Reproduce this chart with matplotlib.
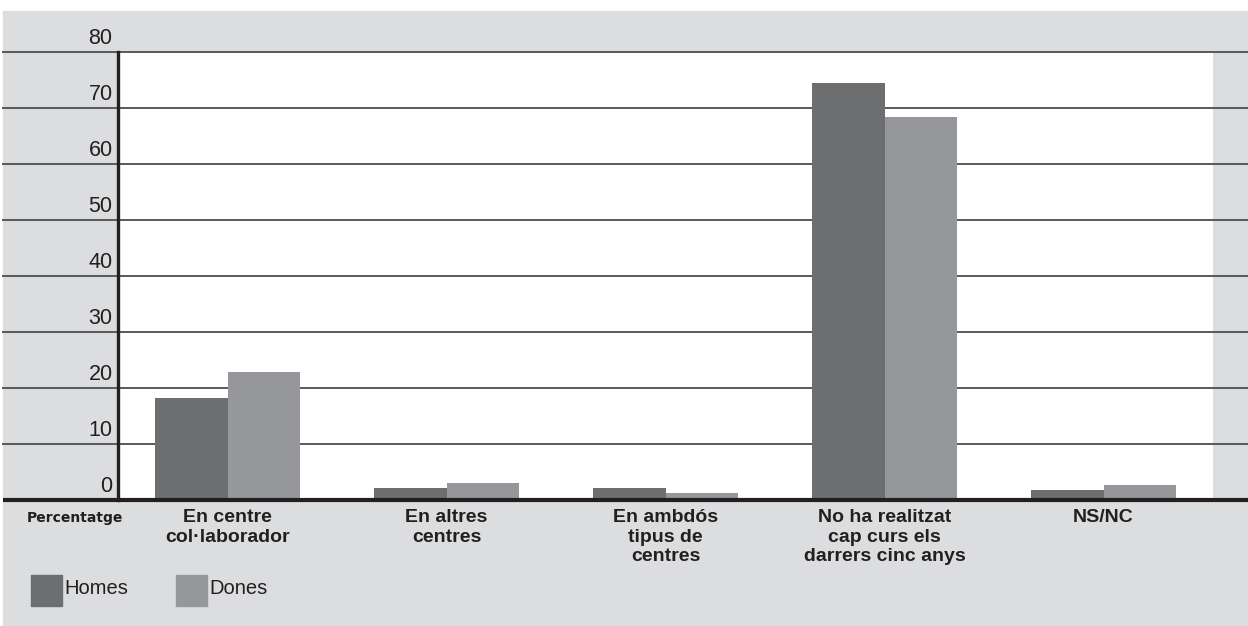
import matplotlib.pyplot as plt
import matplotlib.patches as mpatches
import numpy as np

# Formacio realitzada els darrers cinc anys, per sexe (%)
categories = ['En centre\ncol·laborador', 'En altres\ncentres', 'En ambdós\ntipus de\ncentres',
              'No ha realitzat\ncap curs els\ndarrers cinc anys', 'NS/NC']
homes = [18.2, 2.2, 2.1, 74.5, 1.7]
dones = [22.9, 3.0, 1.2, 68.4, 2.7]
yticks = [0, 10, 20, 30, 40, 50, 60, 70, 80]

W, H = 1248, 626
col_bg = '#dcdddf'
col_homes = '#6d6e70'
col_dones = '#96979b'


def main():
    plt.rcParams['font.family'] = ['Liberation Sans', 'DejaVu Sans']
    fig = plt.figure(figsize=(W / 100, H / 100), dpi=100)

    # grey panel behind everything
    fig.patches.append(mpatches.Rectangle((3 / W, 0), 1 - 3 / W, (H - 11) / H,
                                          transform=fig.transFigure, color=col_bg, zorder=-10))

    left, right, top, bottom = 118, 1213, 52, 500
    ax = fig.add_axes([left / W, (H - bottom) / H, (right - left) / W, (bottom - top) / H])
    ax.set_facecolor('white')

    x = np.arange(len(categories))
    bw = 0.33
    ax.bar(x - bw / 2, homes, bw, color=col_homes, zorder=3)
    ax.bar(x + bw / 2, dones, bw, color=col_dones, zorder=3)

    ax.set_xlim(-0.5, 4.5)
    ax.set_ylim(0, 80)
    ax.set_xticks([])
    ax.set_yticks([])
    for s in ['top', 'right', 'bottom']:
        ax.spines[s].set_visible(False)
    ax.spines['left'].set_linewidth(2.4)
    ax.spines['left'].set_color('#231f20')
    ax.spines['left'].set_zorder(5)

    # gridlines run across the whole grey panel
    x0 = (3 - left) / (right - left)
    x1 = (W - left) / (right - left)
    yt = ax.get_yaxis_transform()
    for v in yticks[1:]:
        ax.plot([x0, x1], [v, v], transform=yt, color='#58595b', lw=1.4,
                clip_on=False, zorder=1)
    for v in yticks:
        ax.text(-0.005, v + 0.6, str(v), transform=yt, ha='right', va='bottom',
                fontsize=15.5, color='#231f20')
    ax.plot([x0, x1], [0, 0], transform=yt, color='#231f20', lw=3,
            clip_on=False, zorder=6, solid_capstyle='butt')

    # category labels
    for i, lab in enumerate(categories):
        ax.text(i, -1.6, lab, ha='center', va='top', fontsize=14, fontweight='bold',
                color='#231f20', linespacing=1.2)

    fig.text(75 / W, 1 - 518 / H, 'Percentatge', ha='center', va='center',
             fontsize=10, fontweight='heavy', family='DejaVu Sans', color='#231f20')

    # legend
    for xs, lab, c in [(31, 'Homes', col_homes), (176, 'Dones', col_dones)]:
        fig.patches.append(mpatches.Rectangle((xs / W, 1 - 606 / H), 31 / W, 31 / H,
                                              transform=fig.transFigure, color=c))
        fig.text((xs + 33) / W, 1 - 588 / H, lab, ha='left', va='center',
                 fontsize=14.5, color='#231f20')

    fig.savefig('out.png', dpi=100, facecolor='white')


if __name__ == '__main__':
    main()
